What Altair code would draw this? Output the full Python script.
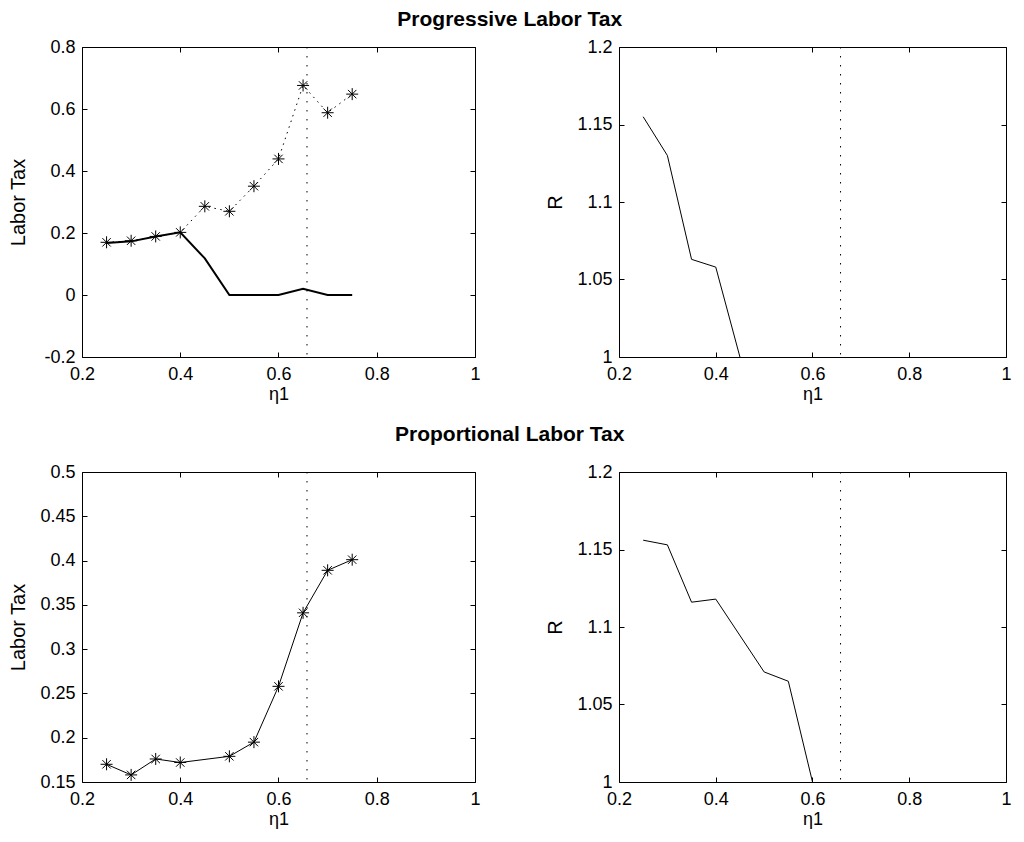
import altair as alt
import pandas as pd

# ---- data ----
eta = [0.25, 0.30, 0.35, 0.40, 0.45, 0.50, 0.55, 0.60, 0.65, 0.70, 0.75]
prog_tax_solid = [0.168, 0.173, 0.189, 0.202, 0.118, 0.0, 0.0, 0.0, 0.020, 0.0, 0.0]
prog_tax_star = [0.170, 0.175, 0.189, 0.202, 0.286, 0.270, 0.351, 0.439, 0.676, 0.588, 0.648]

prog_eta_R = [0.25, 0.30, 0.35, 0.40, 0.45]
prog_R = [1.155, 1.130, 1.063, 1.058, 1.000]

prop_eta = [0.25, 0.30, 0.35, 0.40, 0.50, 0.55, 0.60, 0.65, 0.70, 0.75]
prop_tax = [0.170, 0.158, 0.176, 0.172, 0.179, 0.195, 0.258, 0.341, 0.389, 0.401]

prop_eta_R = [0.25, 0.30, 0.35, 0.40, 0.50, 0.55, 0.60]
prop_R = [1.156, 1.153, 1.116, 1.118, 1.071, 1.065, 1.000]

eta_mark = [0.658]

x_ticks = [0.2, 0.4, 0.6, 0.8, 1.0]
prog_tax_ticks = [-0.2, 0.0, 0.2, 0.4, 0.6, 0.8]
prop_tax_ticks = [0.15, 0.2, 0.25, 0.3, 0.35, 0.4, 0.45, 0.5]
R_ticks = [1.0, 1.05, 1.1, 1.15, 1.2]

X_DOM = [0.2, 1.0]
FONT = "Liberation Sans"
STAR = "M-1,0L1,0M0,-1L0,1M-0.7,-0.7L0.7,0.7M-0.7,0.7L0.7,-0.7"
H = 310

LABEL_EXPR = "toString(datum.value)"


def xenc(axis=None):
    return alt.X("x:Q", scale=alt.Scale(domain=X_DOM, nice=False, zero=False),
                 axis=axis)


def yenc(dom, axis=None):
    return alt.Y("y:Q", scale=alt.Scale(domain=dom, nice=False, zero=False),
                 axis=axis)


def panel(layers, y_dom, y_ticks, y_title, width):
    bottom_axis = alt.Axis(values=x_ticks, title="η1", orient="bottom", offset=-5,
                           domain=False, tickSize=5, tickColor="black", tickWidth=1,
                           labelPadding=8, labelFlush=False, grid=False,
                           labelExpr=LABEL_EXPR, titlePadding=2, labelFontSize=18,
                           titleFontSize=18, labelColor="black", titleColor="black",
                           titleFontWeight="normal")
    left_axis = alt.Axis(values=y_ticks, title=y_title, orient="left", offset=-5,
                         domain=False, tickSize=5, tickColor="black", tickWidth=1,
                         labelPadding=7, labelFlush=False, grid=False,
                         labelExpr=LABEL_EXPR, titleX=-58.5, labelFontSize=18,
                         titleFontSize=20, labelColor="black", titleColor="black",
                         titleFontWeight="normal")
    top_axis = alt.Axis(values=x_ticks, title=None, orient="top", offset=-5,
                        domain=False, tickSize=5, tickColor="black", tickWidth=1,
                        labels=False, grid=False)
    right_axis = alt.Axis(values=y_ticks, title=None, orient="right", offset=-5,
                          domain=False, tickSize=5, tickColor="black", tickWidth=1,
                          labels=False, grid=False)
    axis_df = pd.DataFrame({"x": x_ticks[:2], "y": y_dom})
    axis_main = alt.Chart(axis_df).mark_point(opacity=0, size=1).encode(
        x=xenc(bottom_axis), y=yenc(y_dom, left_axis))
    axis_opp = alt.Chart(axis_df).mark_point(opacity=0, size=1).encode(
        x=xenc(top_axis), y=yenc(y_dom, right_axis))
    rule = alt.Chart(pd.DataFrame({"x": eta_mark})).mark_rule(
        color="black", strokeWidth=1, strokeDash=[1.5, 7.5]).encode(x=xenc())
    built = []
    for df, kind, style in layers:
        c = alt.Chart(df)
        if kind == "line":
            m = c.mark_line(clip=True, **style)
        else:
            m = c.mark_point(shape=STAR, filled=False, size=144, color="black",
                             strokeWidth=1, opacity=1, clip=True)
        built.append(m.encode(x=xenc(), y=yenc(y_dom)))
    return alt.layer(axis_main, axis_opp, rule, *built).resolve_axis(
        x="independent", y="independent").properties(width=width, height=H)


df_solid = pd.DataFrame({"x": eta, "y": prog_tax_solid})
df_star = pd.DataFrame({"x": eta, "y": prog_tax_star})
df_pR = pd.DataFrame({"x": prog_eta_R, "y": prog_R})
df_prop = pd.DataFrame({"x": prop_eta, "y": prop_tax})
df_prR = pd.DataFrame({"x": prop_eta_R, "y": prop_R})

tl = panel([
    (df_star, "line", dict(color="black", strokeWidth=1, strokeDash=[1.5, 4.5])),
    (df_solid, "line", dict(color="black", strokeWidth=2)),
    (df_star, "point", None),
], [-0.2, 0.8], prog_tax_ticks, "Labor Tax", 393)

tr = panel([
    (df_pR, "line", dict(color="black", strokeWidth=1)),
], [1.0, 1.2], R_ticks, "R", 387)

bl = panel([
    (df_prop, "line", dict(color="black", strokeWidth=1)),
    (df_prop, "point", None),
], [0.15, 0.5], prop_tax_ticks, "Labor Tax", 393)

br = panel([
    (df_prR, "line", dict(color="black", strokeWidth=1)),
], [1.0, 1.2], R_ticks, "R", 387)

row1 = alt.hconcat(tl, tr, spacing=64).properties(
    title=alt.TitleParams("Progressive Labor Tax", font=FONT, fontSize=21,
                          fontWeight="bold", anchor="middle", offset=8,
                          color="black"))
row2 = alt.hconcat(bl, br, spacing=64).properties(
    title=alt.TitleParams("Proportional Labor Tax", font=FONT, fontSize=21,
                          fontWeight="bold", anchor="middle", offset=18,
                          color="black"))

chart = alt.vconcat(row1, row2, spacing=19).properties(padding=0).configure(
    font=FONT
).configure_view(stroke="black", strokeWidth=1).configure_axis(
    labelFont=FONT, titleFont=FONT)

chart.save("out.html", embed_options={"renderer": "svg", "actions": False})
